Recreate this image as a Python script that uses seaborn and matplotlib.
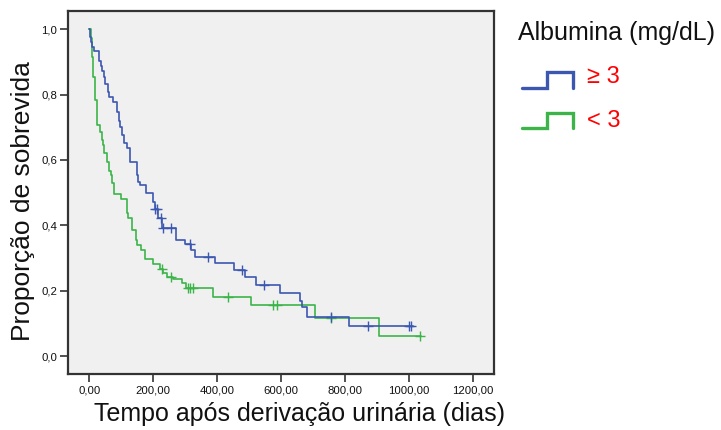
import matplotlib
matplotlib.use("Agg")
import matplotlib.pyplot as plt
import numpy as np
import pandas as pd
import seaborn as sns
from matplotlib.lines import Line2D

# ---------------- data ----------------
groups = ["≥ 3", "< 3"]
legend_title = "Albumina (mg/dL)"
x_label = "Tempo após derivação urinária (dias)"
y_label = "Proporção de sobrevida"

x_ticks = [0, 200, 400, 600, 800, 1000, 1200]
x_tick_labels = ["0,00", "200,00", "400,00", "600,00", "800,00", "1000,00", "1200,00"]
y_ticks = [0.0, 0.2, 0.4, 0.6, 0.8, 1.0]
y_tick_labels = ["0,0", "0,2", "0,4", "0,6", "0,8", "1,0"]

# Kaplan-Meier step curves (time, survival after step)
blue_times = [0, 2, 6, 10, 15, 30, 36, 41, 46, 49, 59, 62, 74, 88, 93, 96, 101, 108, 117, 127,
              148, 153, 158, 177, 200, 204, 216, 228, 270, 299, 317, 330, 393, 452, 487, 520,
              596, 658, 665, 679, 812, 1012]
blue_surv = [1.0, 0.976, 0.96, 0.947, 0.933, 0.904, 0.889, 0.873, 0.853, 0.833, 0.807, 0.792,
             0.777, 0.748, 0.72, 0.702, 0.676, 0.651, 0.636, 0.593, 0.554, 0.534, 0.523, 0.498,
             0.472, 0.449, 0.421, 0.391, 0.355, 0.342, 0.324, 0.303, 0.284, 0.263, 0.242, 0.218,
             0.194, 0.169, 0.149, 0.12, 0.092, 0.092]
blue_cens_t = [205, 211, 223, 231, 255, 314, 370, 478, 545, 755, 870, 1000, 1007]
blue_cens_s = [0.449, 0.449, 0.421, 0.391, 0.391, 0.342, 0.303, 0.263, 0.218, 0.12, 0.092, 0.092, 0.092]

green_times = [0, 4, 8, 12, 18, 23, 33, 39, 44, 47, 54, 62, 67, 72, 76, 98, 117, 121, 134, 145,
               150, 162, 174, 200, 222, 231, 244, 262, 289, 302, 386, 504, 707, 906, 1036]
green_surv = [1.0, 0.972, 0.916, 0.855, 0.784, 0.707, 0.687, 0.661, 0.646, 0.62, 0.595, 0.566,
              0.554, 0.529, 0.495, 0.481, 0.437, 0.421, 0.386, 0.355, 0.34, 0.324, 0.298, 0.283,
              0.266, 0.253, 0.243, 0.235, 0.222, 0.207, 0.182, 0.156, 0.117, 0.06, 0.06]
green_cens_t = [228, 255, 309, 316, 323, 434, 575, 586, 755, 1033]
green_cens_s = [0.266, 0.243, 0.207, 0.207, 0.207, 0.182, 0.156, 0.156, 0.117, 0.06]

colors = {"≥ 3": "#3c57b0", "< 3": "#3cb44a"}

# ---------------- frames ----------------
curves = pd.concat([
    pd.DataFrame({"t": blue_times, "s": blue_surv, "g": groups[0]}),
    pd.DataFrame({"t": green_times, "s": green_surv, "g": groups[1]}),
], ignore_index=True)
cens = pd.concat([
    pd.DataFrame({"t": blue_cens_t, "s": blue_cens_s, "g": groups[0]}),
    pd.DataFrame({"t": green_cens_t, "s": green_cens_s, "g": groups[1]}),
], ignore_index=True)

sns.set_theme(style="white")
plt.rcParams["font.family"] = ["Liberation Sans", "DejaVu Sans"]

fig = plt.figure(figsize=(7.21, 4.30), dpi=100)
W, H = 721, 430
ax = fig.add_axes([68 / W, 1 - 374 / H, (494 - 68) / W, (374 - 11) / H])
ax.set_facecolor("#f0f0f0")

for g in [groups[1], groups[0]]:
    sub = curves[curves["g"] == g]
    sns.lineplot(data=sub, x="t", y="s", ax=ax, color=colors[g], drawstyle="steps-post",
                 estimator=None, sort=False, linewidth=1.2, legend=False)
    csub = cens[cens["g"] == g]
    sns.scatterplot(data=csub, x="t", y="s", ax=ax, color=colors[g], marker="+", s=45,
                    linewidth=1.0, legend=False, zorder=3)

ax.set_xlim(-66.5, 1265)
ax.set_ylim(-0.055, 1.056)
ax.set_xticks(x_ticks)
ax.set_xticklabels(x_tick_labels, fontsize=8.2)
ax.set_yticks(y_ticks)
ax.set_yticklabels(y_tick_labels, fontsize=8.2)
ax.tick_params(axis="both", direction="out", length=5.5, width=1.2, color="#333333",
               labelcolor="#111111", pad=2.5, bottom=True, left=True)
ax.set_xlabel("")
ax.set_ylabel("")
for sp in ax.spines.values():
    sp.set_visible(True)
    sp.set_color("#333333")
    sp.set_linewidth(1.6)

fig.text(299 / W, 1 - 414 / H, x_label, ha="center", va="center", fontsize=18, color="#111111")
fig.text(23 / W, 1 - 201 / H, y_label, ha="center", va="center", rotation=90,
         fontsize=19, color="#111111")

# legend
fig.text(518 / W, 1 - 33 / H, legend_title, ha="left", va="center", fontsize=18, color="#111111")
for g, ylow, yhigh, ytxt in [(groups[0], 87.7, 71.7, 77), (groups[1], 127.7, 113.3, 121)]:
    xs = np.array([522, 547, 547, 572.7, 572.7]) / W
    ys = 1 - np.array([ylow, ylow, yhigh, yhigh, ylow]) / H
    fig.add_artist(Line2D(xs, ys, transform=fig.transFigure, color=colors[g], linewidth=2.4,
                          solid_joinstyle="miter"))
    fig.text(587 / W, 1 - ytxt / H, g, ha="left", va="center", fontsize=17, color="#ff0000")

fig.savefig("out.png", dpi=100)
